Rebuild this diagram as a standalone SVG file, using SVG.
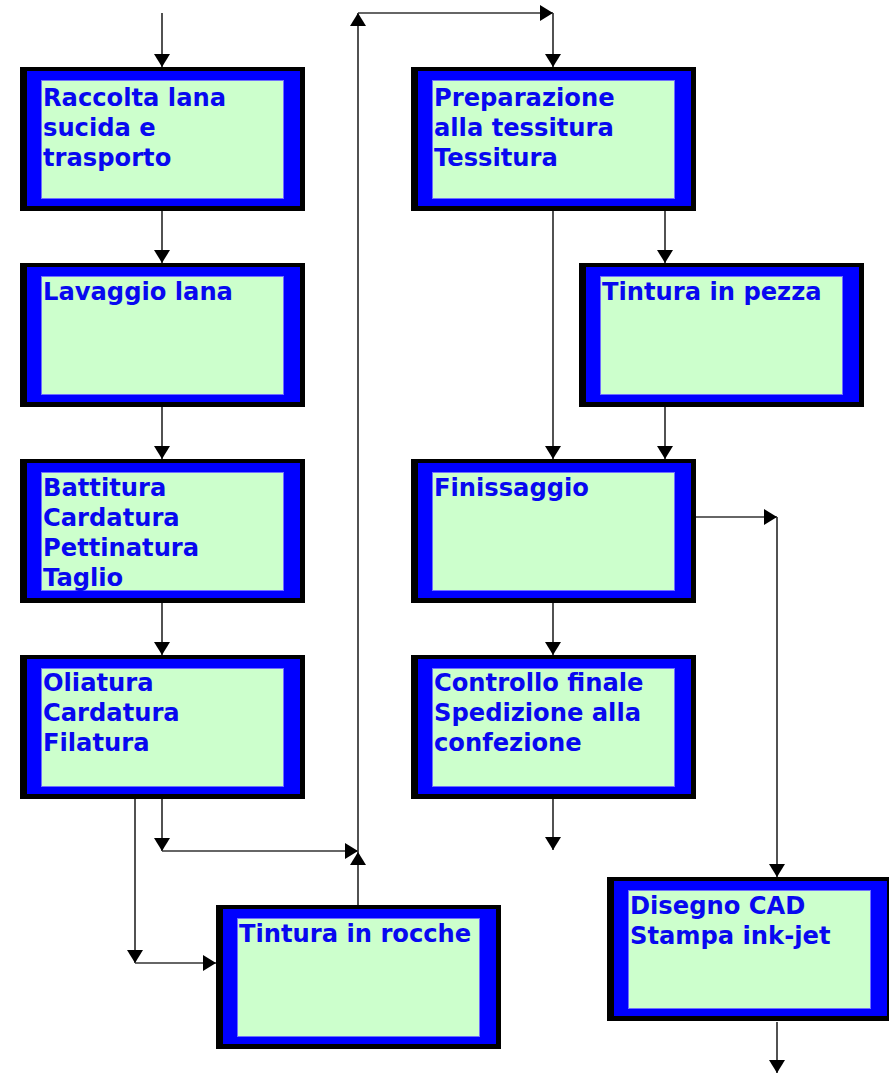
<svg xmlns="http://www.w3.org/2000/svg" width="889" height="1074" viewBox="0 0 889 1074">
<defs>
<style>
.o{fill:#000}
.b{fill:#0000ff}
.g{fill:#ccffcc;stroke:#6f6fff;stroke-width:1}
.t{font-family:"DejaVu Sans",Verdana,sans-serif;font-weight:bold;font-size:24.2px;fill:#0808f0}
.c{fill:none;stroke:#333;stroke-width:1.7}
</style>
<marker id="ah" viewBox="0 0 13 16" refX="13" refY="8" markerWidth="13" markerHeight="16" markerUnits="userSpaceOnUse" orient="auto">
<path d="M0,0 L13,8 L0,16 Z" fill="#000"/>
</marker>
<g id="frame">
<rect class="o" x="0" y="0" width="285" height="144"/>
<rect class="b" x="7" y="4" width="273" height="135"/>
<rect class="g" x="21.5" y="13.5" width="242" height="118"/>
</g>
</defs>
<rect width="889" height="1074" fill="#fff"/>
<g id="connectors" class="c" marker-end="url(#ah)">
<path d="M162,13 V67"/>
<path d="M162,211 V263"/>
<path d="M162,407 V459"/>
<path d="M162,603 V655"/>
<path d="M162,799 V851"/>
<path d="M162,851 H358"/>
<path d="M135,799 V963"/>
<path d="M135,963 H216"/>
<path d="M358,905 V852"/>
<path d="M358,852 V13"/>
<path d="M358,13 H553"/>
<path d="M553,13 V67"/>
<path d="M553,211 V459"/>
<path d="M665,211 V263"/>
<path d="M665,407 V459"/>
<path d="M696,517 H777"/>
<path d="M777,517 V877"/>
<path d="M553,603 V655"/>
<path d="M553,799 V850"/>
<path d="M777,1022 V1073"/>
</g>
<g id="n1"><use href="#frame" x="20" y="67"/>
<text class="t"><tspan x="43" y="106">Raccolta lana</tspan><tspan x="43" y="136">sucida e</tspan><tspan x="43" y="166">trasporto</tspan></text></g>
<g id="n2"><use href="#frame" x="20" y="263"/>
<text class="t"><tspan x="43" y="300">Lavaggio lana</tspan></text></g>
<g id="n3"><use href="#frame" x="20" y="459"/>
<text class="t"><tspan x="43" y="496">Battitura</tspan><tspan x="43" y="526">Cardatura</tspan><tspan x="43" y="556">Pettinatura</tspan><tspan x="43" y="586">Taglio</tspan></text></g>
<g id="n4"><use href="#frame" x="20" y="655"/>
<text class="t"><tspan x="43" y="691">Oliatura</tspan><tspan x="43" y="721">Cardatura</tspan><tspan x="43" y="751">Filatura</tspan></text></g>
<g id="n5"><use href="#frame" x="216" y="905"/>
<text class="t"><tspan x="239" y="942">Tintura in rocche</tspan></text></g>
<g id="n6"><use href="#frame" x="411" y="67"/>
<text class="t"><tspan x="434" y="106">Preparazione</tspan><tspan x="434" y="136">alla tessitura</tspan><tspan x="434" y="166">Tessitura</tspan></text></g>
<g id="n7"><use href="#frame" x="579" y="263"/>
<text class="t"><tspan x="602" y="300">Tintura in pezza</tspan></text></g>
<g id="n8"><use href="#frame" x="411" y="459"/>
<text class="t"><tspan x="434" y="496">Finissaggio</tspan></text></g>
<g id="n9"><use href="#frame" x="411" y="655"/>
<text class="t"><tspan x="434" y="691">Controllo finale</tspan><tspan x="434" y="721">Spedizione alla</tspan><tspan x="434" y="751">confezione</tspan></text></g>
<g id="n10"><use href="#frame" x="607" y="877"/>
<text class="t"><tspan x="630" y="914">Disegno CAD</tspan><tspan x="630" y="944">Stampa ink-jet</tspan></text></g>
</svg>
